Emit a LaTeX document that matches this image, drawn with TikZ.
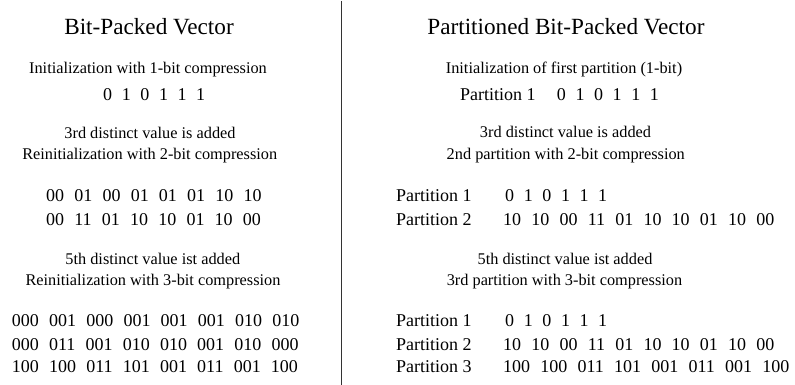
\documentclass[tikz,border=0pt]{standalone}
\usepackage{fontspec}
\setmainfont{Liberation Serif}
\newcommand\gp{\hspace{9.6pt}}
\newcommand\gq{\hspace{10.2pt}}
\begin{document}
\begin{tikzpicture}[x=1pt,y=-1pt,
  ttl/.style={font=\fontsize{23.2}{24}\selectfont, anchor=base, inner sep=0pt},
  captxt/.style={font=\fontsize{16.3}{17}\selectfont, anchor=base, inner sep=0pt},
  row/.style={font=\fontsize{18}{19}\selectfont, anchor=base west, inner sep=0pt},
  divider/.style={draw=black!80, line width=1pt}]
\useasboundingbox (0,0) rectangle (795,385);
% divider
\coordinate (dtop) at (341.3,1);
\coordinate (dbot) at (341.3,385);
\draw[divider] (dtop) -- (dbot);
% left column
\node[ttl] (lt) at (149,35) {Bit-Packed Vector};
\node[captxt] (lc1) at (148,74) {Initialization with 1-bit compression};
\node[row] (lb1) at (103,100.7) {0\gp1\gp0\gp1\gp1\gp1};
\node[captxt] (lc2a) at (150,138.3) {3rd distinct value is added};
\node[captxt] (lc2b) at (149.7,159) {Reinitialization with 2-bit compression};
\node[row] (lb2a) at (46,201.7) {00\gq01\gq00\gq01\gq01\gq01\gq10\gq10};
\node[row] (lb2b) at (46,225) {00\gq11\gq01\gq10\gq10\gq01\gq10\gq00};
\node[captxt] (lc3a) at (152.8,264) {5th distinct value ist added};
\node[captxt] (lc3b) at (153,285) {Reinitialization with 3-bit compression};
\node[row] (lb3a) at (11.7,326) {000\gq001\gq000\gq001\gq001\gq001\gq010\gq010};
\node[row] (lb3b) at (11.7,350) {000\gq011\gq001\gq010\gq010\gq001\gq010\gq000};
\node[row] (lb3c) at (11.7,372.7) {100\gq100\gq011\gq101\gq001\gq011\gq001\gq100};
% right column
\node[ttl] (rt) at (565.9,35) {Partitioned Bit-Packed Vector};
\node[captxt] (rc1) at (564,74) {Initialization of first partition (1-bit)};
\node[row] (rp1) at (460,100.7) {Partition 1};
\node[row] (rb1) at (556.7,100.7) {0\gp1\gp0\gp1\gp1\gp1};
\node[captxt] (rc2a) at (565.5,138) {3rd distinct value is added};
\node[captxt] (rc2b) at (565.8,159) {2nd partition with 2-bit compression};
\node[row] (rp2a) at (396,201.7) {Partition 1};
\node[row] (rb2a) at (505,201.7) {0\gp1\gp0\gp1\gp1\gp1};
\node[row] (rp2b) at (396,225) {Partition 2};
\node[row] (rb2b) at (503,225) {10\gq10\gq00\gq11\gq01\gq10\gq10\gq01\gq10\gq00};
\node[captxt] (rc3a) at (565,264) {5th distinct value ist added};
\node[captxt] (rc3b) at (564.5,285) {3rd partition with 3-bit compression};
\node[row] (rp3a) at (396,326) {Partition 1};
\node[row] (rb3a) at (505,326) {0\gp1\gp0\gp1\gp1\gp1};
\node[row] (rp3b) at (396,350) {Partition 2};
\node[row] (rb3b) at (503,350) {10\gq10\gq00\gq11\gq01\gq10\gq10\gq01\gq10\gq00};
\node[row] (rp3c) at (396,372.7) {Partition 3};
\node[row] (rb3c) at (503,372.7) {100\gq100\gq011\gq101\gq001\gq011\gq001\gq100};
\end{tikzpicture}
\end{document}
